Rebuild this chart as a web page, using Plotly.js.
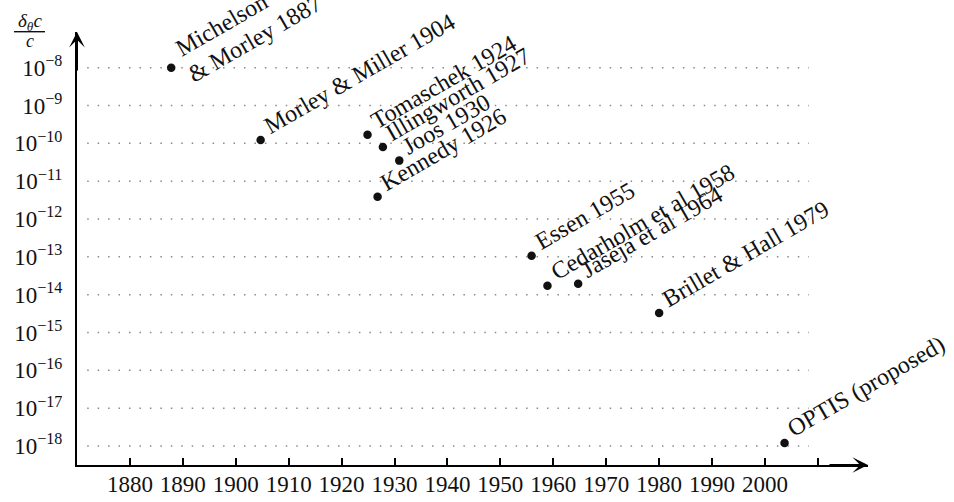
<!DOCTYPE html>
<html>
<head>
<meta charset="utf-8">
<script src="https://cdn.plot.ly/plotly-3.0.1.min.js"></script>
<style>html,body{margin:0;padding:0;background:#fff;}#chart{width:954px;height:502px;}</style>
</head>
<body>
<div id="chart"></div>
<script>
// ---- data ----
const labels = [
  "Michelson<br>&amp; Morley 1887",
  "Morley &amp; Miller 1904",
  "Tomaschek 1924",
  "Illingworth 1927",
  "Joos 1930",
  "Kennedy 1926",
  "Essen 1955",
  "Cedarholm et al 1958",
  "Jaseja et al 1964",
  "Brillet &amp; Hall 1979",
  "OPTIS (proposed)"
];
const years = [1887.8, 1904.7, 1924.9, 1927.8, 1930.9, 1926.8, 1955.9, 1958.9, 1964.7, 1980.0, 2003.7];
const precision = [1e-8, 1.23e-10, 1.7e-10, 8e-11, 3.5e-11, 3.9e-12, 1.07e-13, 1.72e-14, 1.95e-14, 3.3e-15, 1.2e-18];

const xTickYears = [1880, 1890, 1900, 1910, 1920, 1930, 1940, 1950, 1960, 1970, 1980, 1990, 2000, 2010];
const xTickText  = ["1880","1890","1900","1910","1920","1930","1940","1950","1960","1970","1980","1990","2000",""];
const yExponents = [-18, -17, -16, -15, -14, -13, -12, -11, -10, -9, -8];

// ---- layout constants ----
const W = 954, H = 502;
const M = {l: 77, r: 86, t: 32, b: 37};
const plotW = W - M.l - M.r, plotH = H - M.t - M.b;
const xRange = [1870, 2019.47];
const yRange = [-18.502, -7.056];
const gridStart = 1871.93, gridEnd = 2008.3;
const FONT = "'Liberation Serif', 'Times New Roman', serif";
const FS = 23, LFS = 24;

const traces = [];
// dotted guide lines at each decade
yExponents.forEach(e => {
  traces.push({
    type: 'scatter', mode: 'lines', hoverinfo: 'skip', showlegend: false,
    x: [gridStart, gridEnd], y: [Math.pow(10, e), Math.pow(10, e)],
    line: {color: '#8a8a8a', width: 1.5, dash: '1.5px,8.95px'}
  });
});
// measurement points
traces.push({
  type: 'scatter', mode: 'markers', showlegend: false,
  x: years, y: precision,
  marker: {color: '#111', size: 8.5}
});

// label placement: text rotated 30 degrees, baseline starting right of the dot
const ang = 30 * Math.PI / 180, c = Math.cos(ang), s = Math.sin(ang);
const desc = 0.216 * LFS, textH1 = 1.107 * LFS;
function shifts(along, perp) {
  const oH = textH1 + 4;
  const tx = along * c + perp * s;
  const ty = -along * s + perp * c;
  const px = tx - 0.5 * oH - 2 * c + (2 + desc) * s;
  const py = ty + 2 * s + (2 + desc) * c;
  return {xshift: px, yshift: -py};
}
const lineStep = 28.8;

const annotations = [];
labels.forEach((t, i) => {
  const lines = t.split('<br>');
  lines.forEach((ln, k) => {
    const multi = lines.length > 1;
    const along = multi ? (k === 0 ? 14.5 : 12) : 11;
    const perp = multi ? (-4.3 + k * lineStep) : 0;
    const sh = shifts(along, perp);
    annotations.push({
      xref: 'x', yref: 'y', x: years[i], y: Math.log10(precision[i]),
      text: ln, showarrow: false, textangle: -30,
      xanchor: 'left', yanchor: 'bottom', xshift: sh.xshift, yshift: sh.yshift,
      font: {family: FONT, size: LFS, color: '#111'}
    });
  });
});

// axis arrows
annotations.push({xref: 'paper', yref: 'paper', x: 1, y: 0, ax: -40, ay: 0, text: '',
  showarrow: true, arrowhead: 3, arrowsize: 1.3, arrowwidth: 2, arrowcolor: '#000', standoff: 0});
annotations.push({xref: 'paper', yref: 'paper', x: 0, y: 1, ax: 0, ay: 40, text: '',
  showarrow: true, arrowhead: 3, arrowsize: 1.3, arrowwidth: 2, arrowcolor: '#000', standoff: 0});

// y-axis label: fraction δθc / c
const fracX = 29.5 - M.l;
annotations.push({xref: 'paper', yref: 'paper', x: 0, y: 1, xshift: fracX, yshift: 10,
  text: '<i>δ<sub>θ</sub>c</i>', showarrow: false, xanchor: 'center', yanchor: 'middle',
  font: {family: FONT, size: 19, color: '#111'}});
annotations.push({xref: 'paper', yref: 'paper', x: 0, y: 1, xshift: fracX, yshift: -9,
  text: '<i>c</i>', showarrow: false, xanchor: 'center', yanchor: 'middle',
  font: {family: FONT, size: 18, color: '#111'}});

const shapes = [{
  type: 'line', xref: 'paper', yref: 'paper',
  x0: (14 - M.l) / plotW, x1: (45 - M.l) / plotW,
  y0: (H - M.b - 31.7) / plotH, y1: (H - M.b - 31.7) / plotH,
  line: {color: '#111', width: 1.4}
}];

const layout = {
  width: W, height: H,
  margin: M,
  paper_bgcolor: '#fff', plot_bgcolor: '#fff',
  showlegend: false,
  font: {family: FONT, size: FS, color: '#111'},
  xaxis: {
    range: xRange, showgrid: false, zeroline: false,
    showline: true, linewidth: 2, linecolor: '#000',
    tickmode: 'array', tickvals: xTickYears, ticktext: xTickText,
    ticks: 'inside', ticklen: 7, tickwidth: 2, tickcolor: '#000',
    ticklabelstandoff: -3,
    tickfont: {family: FONT, size: FS, color: '#111'}
  },
  yaxis: {
    type: 'log', range: yRange, showgrid: false, zeroline: false,
    showline: true, linewidth: 2, linecolor: '#000',
    tickmode: 'array',
    tickvals: yExponents.map(e => Math.pow(10, e)),
    ticktext: yExponents.map(e => '10<sup>\u2212' + Math.abs(e) + '</sup>'),
    ticks: '', ticklabelstandoff: 8,
    tickfont: {family: FONT, size: FS, color: '#111'}
  },
  annotations: annotations,
  shapes: shapes
};

Plotly.newPlot('chart', traces, layout, {displayModeBar: false, staticPlot: true});
</script>
</body>
</html>
